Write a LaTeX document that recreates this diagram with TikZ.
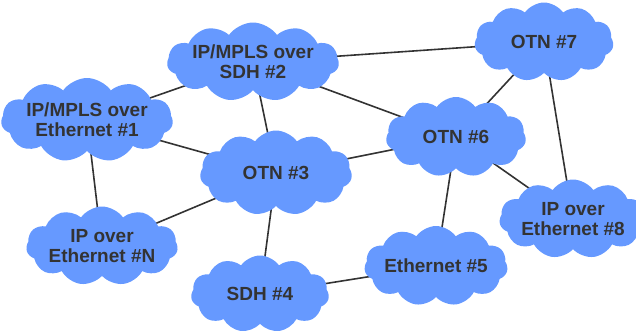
\documentclass[tikz,border=0pt]{standalone}
\usepackage{fontspec}
\setmainfont{Liberation Sans}
\usetikzlibrary{shapes.symbols,backgrounds}
\definecolor{cloudblue}{RGB}{102,153,255}
\definecolor{textgray}{RGB}{51,51,51}
\begin{document}
\begin{tikzpicture}[x=1pt, y=-1pt]
    \tikzstyle{net} = [cloud, cloud puffs=11, cloud puff arc=110, cloud ignores aspect, draw=none, fill=cloudblue, inner sep=0pt, text=textgray, font=\fontsize{19}{20}\selectfont\bfseries, align=center]
    \tikzstyle{link} = [line width=1.6pt, draw=textgray]
    \useasboundingbox (0,0) rectangle (636,333);

    % Networks
    \node [net, minimum width=152pt, minimum height=84pt] (eth1) at (87,120) {IP/MPLS over\\Ethernet \#1};
    \node [net, minimum width=147pt, minimum height=79pt] (sdh2) at (253,62) {IP/MPLS over\\SDH \#2};
    \node [net, minimum width=152pt, minimum height=85pt] (otn3) at (276,173) {OTN \#3};
    \node [net, minimum width=138pt, minimum height=77pt] (sdh4) at (260,294) {SDH \#4};
    \node [net, minimum width=139pt, minimum height=80pt] (eth5) at (436,266) {Ethernet \#5};
    \node [net, minimum width=140pt, minimum height=80pt] (otn6) at (456,137) {OTN \#6};
    \node [net, minimum width=139pt, minimum height=79pt] (otn7) at (544,42) {OTN \#7};
    \node [net, minimum width=132pt, minimum height=79pt] (eth8) at (573,219) {IP over\\Ethernet \#8};
    \node [net, minimum width=132pt, minimum height=79pt] (ethN) at (102,246) {IP over\\Ethernet \#N};

    % Links
    \begin{pgfonlayer}{background}
    \draw [link] (eth1.center) -- (sdh2.center);
    \draw [link] (eth1.center) -- (otn3.center);
    \draw [link] (eth1.center) -- (ethN.center);
    \draw [link] (sdh2.center) -- (otn3.center);
    \draw [link] (sdh2.center) -- (otn7.center);
    \draw [link] (sdh2.center) -- (otn6.center);
    \draw [link] (otn3.center) -- (otn6.center);
    \draw [link] (otn3.center) -- (ethN.center);
    \draw [link] (otn3.center) -- (sdh4.center);
    \draw [link] (sdh4.center) -- (eth5.center);
    \draw [link] (eth5.center) -- (otn6.center);
    \draw [link] (otn6.center) -- (otn7.center);
    \draw [link] (otn6.center) -- (eth8.center);
    \draw [link] (otn7.center) -- (eth8.center);
    \end{pgfonlayer}
\end{tikzpicture}
\end{document}
